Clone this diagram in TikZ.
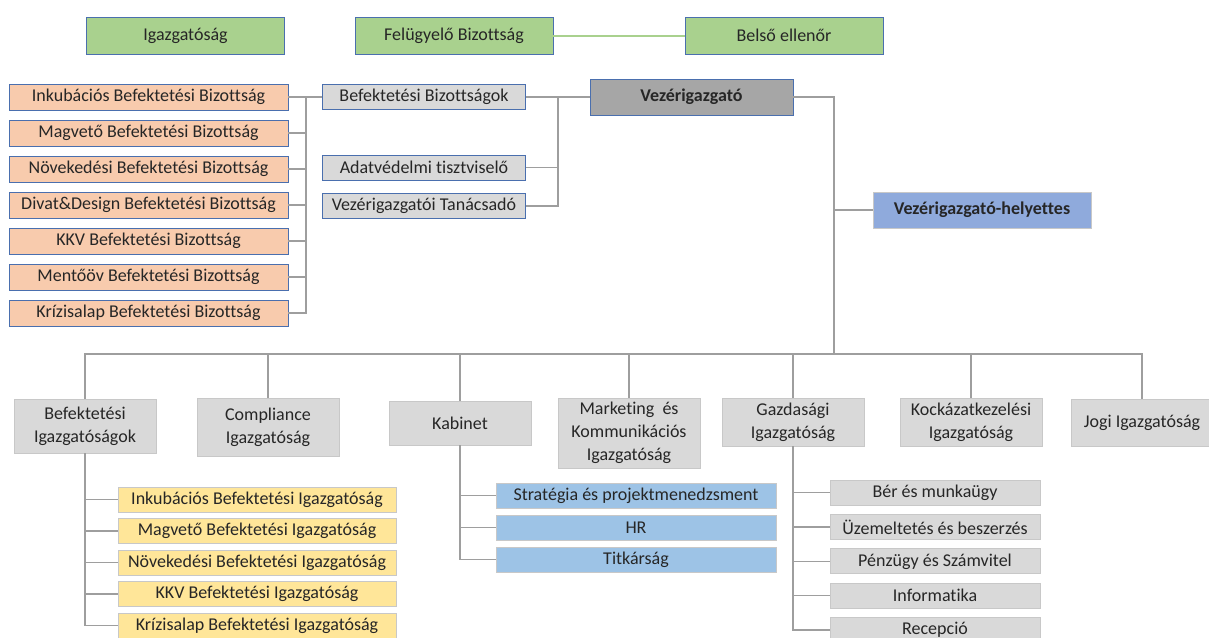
\documentclass[tikz,border=0pt]{standalone}
\usepackage{fontspec}
\setmainfont{Carlito}[Ligatures=NoCommon]
\definecolor{boardgreen}{HTML}{A9D18E}
\definecolor{boardline}{HTML}{4A6FAE}
\definecolor{committee}{HTML}{F8CBAD}
\definecolor{staffgray}{HTML}{D9D9D9}
\definecolor{ceogray}{HTML}{A6A6A6}
\definecolor{deputyblue}{HTML}{8FAADC}
\definecolor{dirfill}{HTML}{FFE699}
\definecolor{cabinetblue}{HTML}{9DC3E6}
\definecolor{softline}{HTML}{C8C8C8}
\definecolor{wire}{HTML}{9E9E9E}

\begin{document}
\begin{tikzpicture}[x=1pt,y=-1pt]
                  \tikzstyle{every node}+=[inner sep=0pt, align=center, text=black!85, font=\fontsize{18}{23}\selectfont]
                  \tikzstyle{board}=[draw=boardline, line width=0.9pt, fill=boardgreen, minimum width=198pt, minimum height=37pt]
                  \tikzstyle{bizottsag}=[draw=boardline, line width=0.9pt, fill=committee, minimum width=279pt, minimum height=26pt]
                  \tikzstyle{staff}=[draw=boardline, line width=0.9pt, fill=staffgray, minimum width=203pt, minimum height=25pt]
                  \tikzstyle{unit}=[draw=softline, line width=0.8pt, fill=staffgray, minimum width=142pt]
                  \tikzstyle{igazg}=[draw=softline, line width=0.8pt, fill=dirfill, minimum width=278pt, minimum height=25pt]
                  \tikzstyle{kabin}=[draw=softline, line width=0.8pt, fill=cabinetblue, minimum width=280pt, minimum height=25pt]
                  \tikzstyle{gazd}=[draw=softline, line width=0.8pt, fill=staffgray, minimum width=210pt, minimum height=25pt]
                  \tikzstyle{wireline}=[draw=wire, line width=1.4pt]
                  \useasboundingbox (0,0) rectangle (1209,637);
                  % felső sor
                  \node [board] (igazgatosag) at (185.5,35.5) {Igazgatóság};
                  \node [board] (fb) at (454,35.5) {Felügyelő Bizottság};
                  \node [board] (belso) at (784,35.5) {Belső ellenőr};
                  \draw [boardgreen, line width=2pt] (fb.east) -- (belso.west);
                  % befektetési bizottságok
                  \foreach \name [count=\i from 0] in {Inkubációs, Magvető, Növekedési, Divat\&Design, KKV, Mentőöv, Krízisalap}
                      \node [bizottsag] (biz\i) at (148.5,97+36*\i) {\name\ Befektetési Bizottság};
                  \node [staff] (befbiz) at (424,97) {Befektetési Bizottságok};
                  \node [staff] (adat) at (424,167.5) {Adatvédelmi tisztviselő};
                  \node [staff] (tanacs) at (424,206) {Vezérigazgatói Tanácsadó};
                  \coordinate (bizbus) at (306,97);
                  \coordinate (staffbus) at (558,97);
                  \foreach \i in {0,...,6}
                      \draw [wireline] (biz\i.east) -| (bizbus);
                  \draw [wireline] (bizbus) -- (befbiz.west);
                  % vezérigazgató
                  \node [draw=boardline, line width=0.9pt, fill=ceogray, minimum width=203pt, minimum height=36pt, font=\fontsize{18}{23}\selectfont\bfseries] (vezig) at (691.5,97) {Vezérigazgató};
                  \node [draw=softline, line width=0.8pt, fill=deputyblue, minimum width=218pt, minimum height=36pt, font=\fontsize{18}{23}\selectfont\bfseries] (helyettes) at (982,210) {Vezérigazgató-helyettes};
                  \draw [wireline] (befbiz.east) -- (vezig.west);
                  \draw [wireline] (adat.east) -| (staffbus);
                  \draw [wireline] (tanacs.east) -| (staffbus);
                  \coordinate (mainbus) at (834,354);
                  \draw [wireline] (vezig.east) -| (mainbus);
                  \draw [wireline] (helyettes.west) -| (mainbus);
                  % igazgatóságok
                  \node [unit, minimum height=54pt] (befig) at (85,426) {Befektetési\\Igazgatóságok};
                  \node [unit, minimum height=58pt] (compl) at (268,427) {Compliance\\Igazgatóság};
                  \node [unit, minimum height=44pt] (kabinet) at (460,423) {Kabinet};
                  \node [unit, minimum height=70pt] (marketing) at (629,433) {Marketing~ és\\Kommunikációs\\Igazgatóság};
                  \node [unit, minimum height=48pt] (gazdasagi) at (793,422) {Gazdasági\\Igazgatóság};
                  \node [unit, minimum height=48pt] (kockazat) at (971,422) {Kockázatkezelési\\Igazgatóság};
                  \node [unit, minimum height=47pt] (jogi) at (1142,422.5) {Jogi Igazgatóság};
                  \draw [wireline] (befig.north) |- (mainbus) -| (jogi.north);
                  \foreach \n in {compl, kabinet, marketing, gazdasagi, kockazat}
                      \draw [wireline] (\n.north) -- (\n.north |- mainbus);
                  % alegységek
                  \foreach \name [count=\i from 0] in {Inkubációs, Magvető, Növekedési, KKV, Krízisalap}
                      \node [igazg] (ig\i) at (257,499.5+31.5*\i) {\name\ Befektetési Igazgatóság};
                  \foreach \i in {0,...,4}
                      \draw [wireline] (befig.south) |- (ig\i.west);
                  \foreach \name [count=\i from 0] in {Stratégia és projektmenedzsment, HR, Titkárság}
                      \node [kabin] (kab\i) at (636,495.5+32*\i) {\name};
                  \foreach \i in {0,...,2}
                      \draw [wireline] (kabinet.south) |- (kab\i.west);
                  \foreach \name [count=\i from 0] in {Bér és munkaügy, Üzemeltetés és beszerzés, Pénzügy és Számvitel, Informatika, Recepció}
                      \node [gazd] (gaz\i) at (935,492.5+34.4*\i) {\name};
                  \foreach \i in {0,...,4}
                      \draw [wireline] (gazdasagi.south) |- (gaz\i.west);
              \end{tikzpicture}
\end{document}
